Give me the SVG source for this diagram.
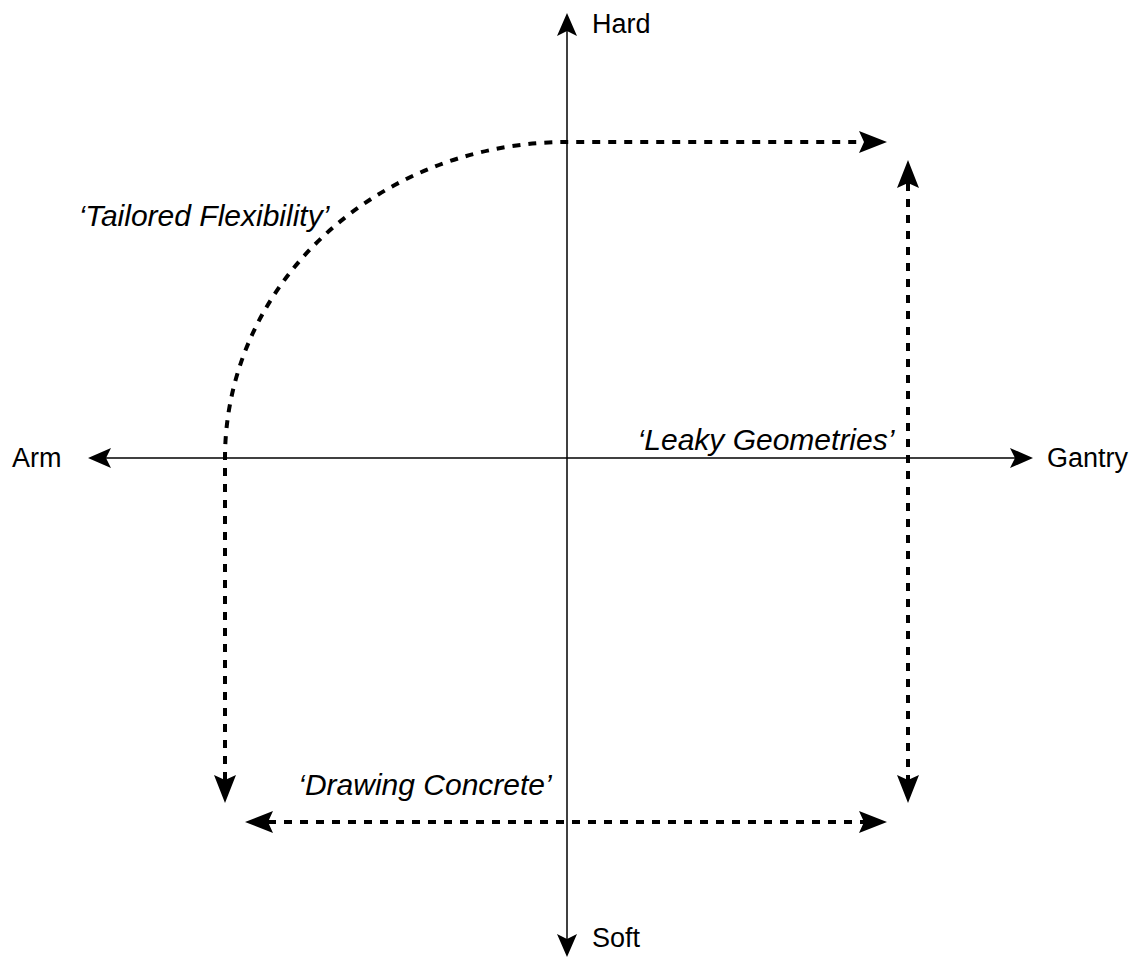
<svg xmlns="http://www.w3.org/2000/svg" width="1138" height="958" viewBox="0 0 1138 958">
<style>
.axis{fill:none;stroke:#000;stroke-width:1.5}
.dash{fill:none;stroke:#000;stroke-width:4;stroke-dasharray:8 8}
.lbl{font-family:"Liberation Sans",Arial,sans-serif;font-size:27px;fill:#000}
.ital{font-family:"Liberation Sans",Arial,sans-serif;font-size:30px;font-style:italic;fill:#000;text-anchor:middle}
</style>
<defs>
<marker id="thin" markerUnits="userSpaceOnUse" viewBox="-6 -11 26 22" refX="0" refY="0" markerWidth="26" markerHeight="22" orient="auto-start-reverse" overflow="visible">
<path d="M0,0 L-5,-10 L18,0 L-5,10 Z" fill="#000"/>
</marker>
<marker id="thick" markerUnits="userSpaceOnUse" viewBox="-6 -12 30 24" refX="0" refY="0" markerWidth="30" markerHeight="24" orient="auto-start-reverse" overflow="visible">
<path d="M0,0 L-5,-11 L23,0 L-5,11 Z" fill="#000"/>
</marker>
</defs>
<rect width="1138" height="958" fill="#fff"/>
<g id="connectors">
<path id="v-axis" class="axis" d="M567,31 L567,939" marker-start="url(#thin)" marker-end="url(#thin)"/>
<path id="h-axis" class="axis" d="M106,458 L1015,458" marker-start="url(#thin)" marker-end="url(#thin)"/>
<path id="curve" class="dash" d="M225,780 L225,458 A342,316 0 0 1 567,142 L864,142" marker-start="url(#thick)" marker-end="url(#thick)"/>
<path id="right" class="dash" d="M908,183 L908,780" marker-start="url(#thick)" marker-end="url(#thick)"/>
<path id="bottom" class="dash" d="M268,822 L864,822" marker-start="url(#thick)" marker-end="url(#thick)"/>
</g>
<g id="hard"><text class="lbl" x="592" y="33">Hard</text></g>
<g id="soft"><text class="lbl" x="592" y="947">Soft</text></g>
<g id="arm"><text class="lbl" x="12" y="467">Arm</text></g>
<g id="gantry"><text class="lbl" x="1047" y="467">Gantry</text></g>
<g id="tailored"><text class="ital" x="204" y="226">‘Tailored Flexibility’</text></g>
<g id="leaky"><text class="ital" x="766" y="450">‘Leaky Geometries’</text></g>
<g id="drawing"><text class="ital" x="425" y="795">‘Drawing Concrete’</text></g>
</svg>
